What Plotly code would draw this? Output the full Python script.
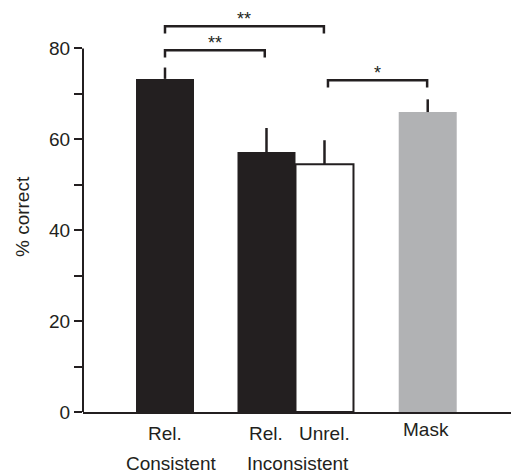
import plotly.graph_objects as go

# ---- data ----
categories = ["Rel. Consistent", "Rel. Inconsistent", "Unrel. Inconsistent", "Mask"]
values = [73.3, 57.2, 54.5, 66.0]
errors = [2.5, 5.3, 5.3, 2.8]
y_tick_vals = [0, 10, 20, 30, 40, 50, 60, 70, 80]
y_tick_text = ["0", "", "20", "", "40", "", "60", "", "80"]
# significance brackets: (from category index, to category index, label)
sig_pairs = [(0, 1, "**"), (0, 2, "**"), (2, 3, "*")]

# ---- layout / style ----
INK = "#231f20"
FONT = "Liberation Sans, Arial, Helvetica, sans-serif"
x_pos = [0.0, 1.75, 2.75, 4.53]
fill_colors = [INK, INK, "#ffffff", "#b1b2b4"]
line_widths = [0, 0, 2, 0]
bracket_y = [79.6, 84.9, 73.0]
bracket_leg = 1.6
bracket_x_adj = [(0.0, -0.03), (0.0, -0.01), (0.06, -0.01)]

fig = go.Figure()
fig.add_trace(go.Bar(
    x=x_pos, y=values, width=1.0,
    marker=dict(color=fill_colors, line=dict(color=INK, width=line_widths)),
    error_y=dict(type="data", array=errors, arrayminus=[0] * len(errors),
                 symmetric=False, width=0, thickness=2.5, color=INK),
    hoverinfo="skip", showlegend=False,
))

shapes = []
annotations = []
# y axis line from 0 to 80 only
shapes.append(dict(type="line", xref="paper", yref="y", x0=0, x1=0, y0=0, y1=80,
                   line=dict(color=INK, width=2)))

for (a, b, lab), yb, (da, db) in zip(sig_pairs, bracket_y, bracket_x_adj):
    xa = x_pos[a] + da
    xb = x_pos[b] + db
    shapes.append(dict(type="path", xref="x", yref="y",
                       path=f"M {xa},{yb - bracket_leg} L {xa},{yb} L {xb},{yb} L {xb},{yb - bracket_leg}",
                       line=dict(color=INK, width=2.5)))
    annotations.append(dict(x=(xa + xb) / 2, y=yb, xref="x", yref="y", text=lab,
                            showarrow=False, yanchor="bottom", yshift=-5,
                            font=dict(family=FONT, size=18, color=INK)))

# category labels
label_specs = [
    ("Rel.", x_pos[0], -21), ("Consistent", x_pos[0] + 0.1, -51),
    ("Rel.", x_pos[1], -21), ("Unrel.", x_pos[2], -21),
    ("Inconsistent", (x_pos[1] + x_pos[2]) / 2 + 0.05, -51),
    ("Mask", x_pos[3] - 0.03, -17),
]
for txt, xx, ys in label_specs:
    annotations.append(dict(x=xx, y=0, xref="x", yref="y", text=txt, showarrow=False,
                            yanchor="middle", yshift=ys,
                            font=dict(family=FONT, size=19, color=INK)))

annotations.append(dict(x=0, xref="paper", xshift=-61, y=42.9, yref="y",
                        text="% correct", textangle=-90, showarrow=False,
                        xanchor="center", yanchor="middle",
                        font=dict(family=FONT, size=19, color=INK)))

fig.update_layout(
    width=511, height=473,
    margin=dict(l=83, r=0, t=3, b=61),
    paper_bgcolor="white", plot_bgcolor="white",
    font=dict(family=FONT, size=19, color=INK),
    shapes=shapes, annotations=annotations,
    xaxis=dict(range=[-1.414, 5.966], showline=True, linewidth=2, linecolor=INK,
               showgrid=False, zeroline=False, showticklabels=False, ticks=""),
    yaxis=dict(range=[0, 90], showline=False, showgrid=False, zeroline=False,
               tickmode="array", tickvals=y_tick_vals, ticktext=y_tick_text,
               ticks="outside", ticklen=8, tickwidth=2, tickcolor=INK,
               tickfont=dict(family=FONT, size=19, color=INK)),
)

fig.write_html("out.html", config={"displayModeBar": False},
               post_script="document.body.style.margin='0';")
